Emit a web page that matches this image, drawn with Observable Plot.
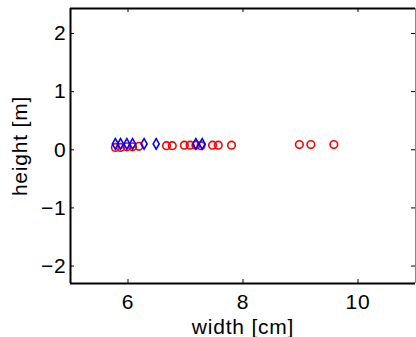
<!DOCTYPE html>
<html>
<head>
<meta charset="utf-8">
<script src="https://cdn.jsdelivr.net/npm/d3@7"></script>
<script src="https://cdn.jsdelivr.net/npm/@observablehq/plot@0.6"></script>
<style>
  html, body { margin: 0; padding: 0; background: #fff; }
  svg { display: block; }
</style>
</head>
<body>
<div id="chart"></div>
<script>
// Data
const redX = [5.78, 5.87, 5.98, 6.08, 6.19, 6.67, 6.77, 6.98, 7.08, 7.18, 7.27, 7.47, 7.57, 7.80, 8.98, 9.18, 9.58];
const redY = [0.04, 0.04, 0.05, 0.05, 0.06, 0.07, 0.07, 0.08, 0.08, 0.08, 0.07, 0.08, 0.08, 0.08, 0.09, 0.09, 0.09];
const blueX = [5.78, 5.87, 5.98, 6.08, 6.28, 6.49, 7.18, 7.29];
const blueY = [0.10, 0.10, 0.10, 0.10, 0.10, 0.10, 0.10, 0.10];
const xTicks = [6, 8, 10];
const yTicks = [-2, -1, 0, 1, 2];
const xDomain = [5, 11];
const yDomain = [-2.3, 2.43];

const red = redX.map((x, i) => ({x, y: redY[i]}));
const blue = blueX.map((x, i) => ({x, y: blueY[i]}));

const W = 416, H = 337, mL = 70, mR = 1, mT = 8, mB = 54;
const plotW = W - mL - mR, plotH = H - mT - mB;
const tickLen = 4;

const font = "Liberation Sans, Arial, Helvetica, sans-serif";
const fmt = d => (d < 0 ? "\u2212" : "") + Math.abs(d);

const chart = Plot.plot({
  width: W,
  height: H,
  marginLeft: mL,
  marginRight: mR,
  marginTop: mT,
  marginBottom: mB,
  style: {fontFamily: font, fontSize: "21px", color: "black", background: "white"},
  x: {domain: xDomain},
  y: {domain: yDomain},
  marks: [
    Plot.axisX({ticks: xTicks, tickSize: 0, tickPadding: 11, tickFormat: fmt,
      label: "width [cm]", labelAnchor: "center", labelArrow: "none", labelOffset: 50}),
    Plot.axisY({ticks: yTicks, tickSize: 0, tickPadding: 4, tickFormat: fmt,
      label: "height [m]", labelAnchor: "center", labelArrow: "none", labelOffset: 58}),
    // inward ticks on all four sides
    Plot.tickX(xTicks, {x: d => d, insetTop: plotH - tickLen, stroke: "black", strokeWidth: 1}),
    Plot.tickX(xTicks, {x: d => d, insetBottom: plotH - tickLen, stroke: "black", strokeWidth: 1}),
    Plot.tickY(yTicks, {y: d => d, insetRight: plotW - tickLen, stroke: "black", strokeWidth: 1}),
    Plot.tickY(yTicks, {y: d => d, insetLeft: plotW - tickLen, stroke: "black", strokeWidth: 1}),
    // box
    Plot.ruleX([xDomain[0]], {stroke: "black", strokeWidth: 2}),
    Plot.ruleX([xDomain[1]], {stroke: "#888", strokeWidth: 1}),
    Plot.ruleY([yDomain[0]], {stroke: "black", strokeWidth: 2}),
    Plot.ruleY([yDomain[1]], {stroke: "black", strokeWidth: 2}),
    // data
    Plot.dot(red, {x: "x", y: "y", r: 3.8, stroke: "red", strokeWidth: 1.6, fill: "none"}),
    Plot.dot(blue, {x: "x", y: "y", r: 3.2, symbol: "diamond", stroke: "blue", strokeWidth: 1.6, fill: "none"})
  ]
});
chart.querySelectorAll("text").forEach(t => t.style.letterSpacing = "0.8px");
document.getElementById("chart").appendChild(chart);
</script>
</body>
</html>
